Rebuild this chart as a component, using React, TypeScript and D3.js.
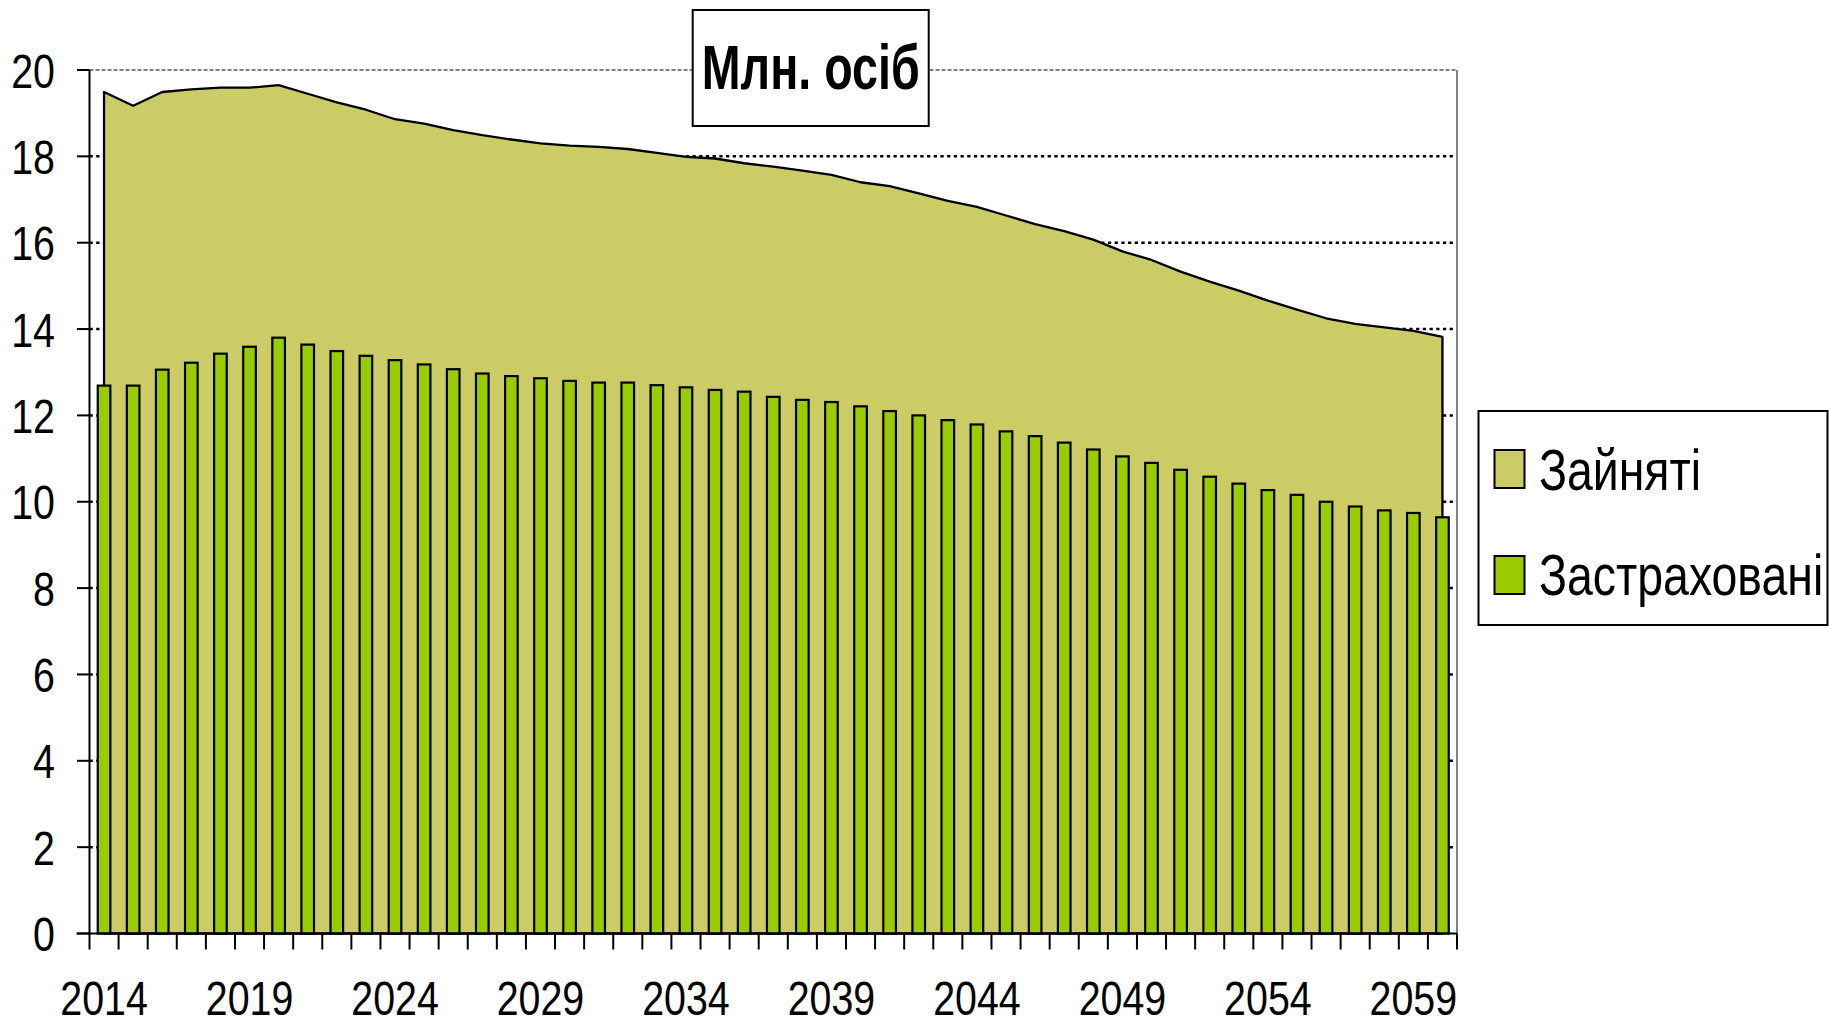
import React from 'react'
import * as d3 from 'd3'

const years = [
  '2014', '2015', '2016', '2017', '2018', '2019', '2020', '2021', '2022', '2023',
  '2024', '2025', '2026', '2027', '2028', '2029', '2030', '2031', '2032', '2033',
  '2034', '2035', '2036', '2037', '2038', '2039', '2040', '2041', '2042', '2043',
  '2044', '2045', '2046', '2047', '2048', '2049', '2050', '2051', '2052', '2053',
  '2054', '2055', '2056', '2057', '2058', '2059', '2060',
]

// Зайняті (area)
const employed = [
  19.49, 19.17, 19.49, 19.55, 19.59, 19.59, 19.65, 19.45, 19.25, 19.08,
  18.86, 18.76, 18.61, 18.49, 18.39, 18.30, 18.25, 18.22, 18.17, 18.08,
  17.99, 17.95, 17.84, 17.76, 17.67, 17.57, 17.40, 17.31, 17.14, 16.97,
  16.83, 16.63, 16.43, 16.27, 16.07, 15.80, 15.60, 15.33, 15.10, 14.89,
  14.66, 14.45, 14.25, 14.12, 14.04, 13.96, 13.82,
]

// Застраховані (bars)
const insured = [
  12.69, 12.69, 13.06, 13.22, 13.43, 13.59, 13.80, 13.64, 13.49, 13.38,
  13.28, 13.18, 13.07, 12.97, 12.91, 12.86, 12.80, 12.76, 12.76, 12.70,
  12.65, 12.59, 12.55, 12.43, 12.36, 12.31, 12.21, 12.10, 12.00, 11.89,
  11.79, 11.63, 11.52, 11.37, 11.21, 11.05, 10.90, 10.74, 10.58, 10.42,
  10.27, 10.16, 10.00, 9.89, 9.80, 9.74, 9.64,
]

const yTicks = [0, 2, 4, 6, 8, 10, 12, 14, 16, 18, 20]
const xLabels = ['2014', '2019', '2024', '2029', '2034', '2039', '2044', '2049', '2054', '2059']
const seriesNames = ['Зайняті', 'Застраховані']

const areaColor = '#CCCC66'
const barColor = '#99CC00'
const font = "'Liberation Sans', Arial, sans-serif"

// narrow text: the original uses a condensed face, squeeze a regular one horizontally
function NText({ x, y, sx = 0.82, anchor = 'start', size, bold = false, children }: any) {
  return (
    <text transform={`translate(${x},${y}) scale(${sx},1)`} textAnchor={anchor}
      fontSize={size} fontWeight={bold ? 'bold' : 'normal'}>
      {children}
    </text>
  )
}

export default function App() {
  const W = 1829
  const H = 1028
  const left = 89.5
  const right = 1457
  const top = 70
  const bottom = 933.5

  const x = d3.scaleBand<string>()
    .domain(years)
    .range([left, right])
    .paddingInner(0.567)
    .paddingOuter(0.2835)
  const y = d3.scaleLinear().domain([0, 20]).range([bottom, top])

  const step = x.step()
  const bw = x.bandwidth()
  const cx = (yr: string) => (x(yr) as number) + bw / 2

  const area = d3.area<number>()
    .x((_, i) => cx(years[i]))
    .y0(y(0))
    .y1(d => y(d))

  const boundaries = years.map(yr => cx(yr) - step / 2).concat([right])

  return (
    <svg width={W} height={H} style={{ position: 'fixed', left: 0, top: 0, background: '#fff' }}
      fontFamily={font}>
      {/* gridlines */}
      {yTicks.filter(t => t > 0 && t < 20).map(t => (
        <line key={t} x1={left} x2={right} y1={y(t)} y2={y(t)}
          stroke="#000" strokeWidth={2.5} strokeDasharray="3.3 3.4" />
      ))}
      <line x1={left} x2={right} y1={y(20)} y2={y(20)} stroke="#808080" strokeWidth={2} strokeDasharray="4 2" />
      <line x1={right} x2={right} y1={y(20)} y2={y(0)} stroke="#808080" strokeWidth={2} />

      {/* employed area */}
      <path d={area(employed) || ''} fill={areaColor} stroke="#000" strokeWidth={2.3} strokeLinejoin="round" />

      {/* insured bars */}
      {insured.map((v, i) => (
        <rect key={years[i]} x={x(years[i])} y={y(v)} width={bw} height={y(0) - y(v)}
          fill={barColor} stroke="#000" strokeWidth={2.2} />
      ))}

      {/* y axis */}
      <line x1={left} x2={left} y1={y(20)} y2={y(0)} stroke="#000" strokeWidth={2} />
      {yTicks.map(t => (
        <g key={t}>
          <line x1={77} x2={left} y1={y(t)} y2={y(t)} stroke="#000" strokeWidth={2} />
          <NText x={55} y={y(t) + 17.5} anchor="end" size={48}>{t}</NText>
        </g>
      ))}

      {/* x axis */}
      <line x1={76.5} x2={right} y1={y(0)} y2={y(0)} stroke="#000" strokeWidth={2} />
      {boundaries.map((bx, i) => (
        <line key={i} x1={bx} x2={bx} y1={y(0)} y2={y(0) + 16} stroke="#000" strokeWidth={2} />
      ))}
      {xLabels.map(l => (
        <NText key={l} x={cx(l)} y={1015} anchor="middle" size={48}>{l}</NText>
      ))}

      {/* title box */}
      <rect x={692.7} y={10} width={236} height={116} fill="#fff" stroke="#000" strokeWidth={2} />
      <NText x={810.7} y={89} anchor="middle" size={63} bold sx={0.74}>Млн. осіб</NText>

      {/* legend */}
      <rect x={1478.5} y={411} width={349} height={214} fill="#fff" stroke="#000" strokeWidth={2} />
      {seriesNames.map((name, i) => (
        <g key={name}>
          <rect x={1494.5} y={450 + i * 106} width={30} height={38}
            fill={i === 0 ? areaColor : barColor} stroke="#000" strokeWidth={2} />
          <NText x={1539} y={490 + i * 105} size={58} sx={0.8}>{name}</NText>
        </g>
      ))}
    </svg>
  )
}
